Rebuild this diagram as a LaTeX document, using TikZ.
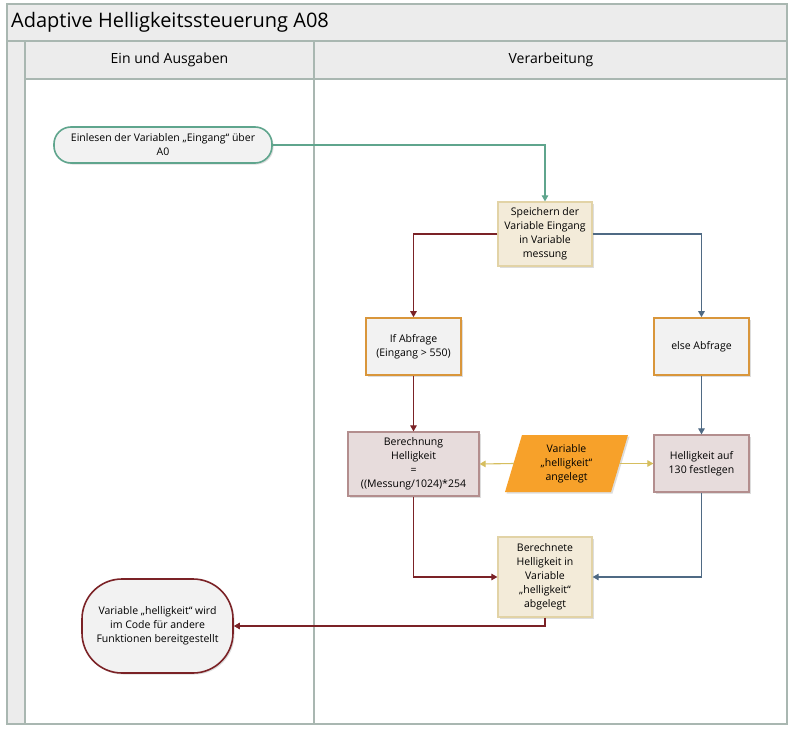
\documentclass[tikz,border=0pt]{standalone}
\usepackage{fontspec}
\setmainfont{Open Sans}
\usetikzlibrary{arrows.meta,shadows}
\definecolor{frameC}{HTML}{A9B7B1}
\definecolor{hdrC}{HTML}{ECECEC}
\definecolor{lightC}{HTML}{F2F2F2}
\definecolor{beigeC}{HTML}{F3EBD9}
\definecolor{beigeB}{HTML}{E2D3A6}
\definecolor{orangeB}{HTML}{D9963B}
\definecolor{pinkC}{HTML}{E7DCDC}
\definecolor{pinkB}{HTML}{B38E8E}
\definecolor{paraC}{HTML}{F7A12A}
\definecolor{tealC}{HTML}{5FA58D}
\definecolor{redC}{HTML}{7B2226}
\definecolor{slateC}{HTML}{4F6A84}
\definecolor{yelC}{HTML}{D6BE5E}
\tikzset{
  boxtext/.style={align=center, font=\fontsize{10.5}{14}\selectfont, inner sep=0pt},
  shad/.style={drop shadow={shadow xshift=1.5pt, shadow yshift=-1.5pt, opacity=0.22, fill=black!60}},
  beigebox/.style={boxtext, rectangle, fill=beigeC, draw=beigeB, line width=1.2pt, shad},
  orangebox/.style={boxtext, rectangle, fill=lightC, draw=orangeB, line width=1.6pt, shad},
  pinkbox/.style={boxtext, rectangle, fill=pinkC, draw=pinkB, line width=1.2pt, shad},
  conn/.style={line width=1.1pt, -{Triangle[length=6pt,width=6.5pt]}},
  framel/.style={draw=frameC, line width=1.2pt},
}
\begin{document}
\begin{tikzpicture}[x=1pt,y=-1pt]
\useasboundingbox (0,0) rectangle (795,733);
\fill[white] (0,0) rectangle (795,733);
% pool frame
\fill[hdrC] (7,4) rectangle (787,79);
\fill[hdrC] (7,4) rectangle (25,724);
\draw[framel] (7,41) -- (787,41);
\draw[framel] (25,41) -- (25,724);
\draw[framel] (25,79) -- (787,79);
\draw[draw=frameC, line width=2.6pt] (314,41) -- (314,724);
\draw[framel] (7,4) rectangle (787,724);
% titles
\node[anchor=west, inner sep=0pt, font=\fontsize{20}{24}\selectfont] (title) at (11,22) {Adaptive Helligkeitssteuerung A08};
\node[font=\fontsize{14}{17}\selectfont] (lane1) at (169.5,60) {Ein und Ausgaben};
\node[font=\fontsize{14}{17}\selectfont] (lane2) at (551,60) {Verarbeitung};
% nodes
\node[boxtext, rectangle, rounded corners=17pt, fill=lightC, draw=tealC, line width=1.6pt,
      minimum width=218pt, minimum height=36pt, shad] (start) at (163,145)
      {Einlesen der Variablen „Eingang“ über\\A0};
\node[beigebox, minimum width=94pt, minimum height=64pt] (spei) at (545,234)
      {Speichern der\\Variable Eingang\\in Variable\\messung};
\node[orangebox, minimum width=95pt, minimum height=57pt] (ifn) at (413.5,346.5)
      {If Abfrage\\(Eingang > 550)};
\node[orangebox, minimum width=95pt, minimum height=57pt] (elsen) at (701.5,346.5)
      {else Abfrage};
\node[pinkbox, minimum width=131pt, minimum height=64pt] (ber) at (413.5,464)
      {Berechnung\\Helligkeit\\=\\((Messung/1024)*254};
\node[pinkbox, minimum width=95pt, minimum height=57pt] (h130) at (701.5,463.5)
      {Helligkeit auf\\130 festlegen};
\node[beigebox, minimum width=94pt, minimum height=80pt] (abg) at (545,577)
      {Berechnete\\Helligkeit in\\Variable\\„helligkeit“\\abgelegt};
\node[boxtext, rectangle, rounded corners=40pt, fill=lightC, draw=redC, line width=1.6pt,
      minimum width=151pt, minimum height=94pt, shad] (endn) at (157.5,626)
      {Variable „helligkeit“ wird\\im Code für andere\\Funktionen bereitgestellt};
% parallelogram
\fill[paraC, shad] (505,492) -- (522,435) -- (628,435) -- (611,492) -- cycle;
\node[boxtext] (para) at (566.5,463.5) {Variable\\„helligkeit“\\angelegt};
\coordinate (parL) at (514,463.5);
\coordinate (parR) at (619,463.5);
% connectors
\draw[conn, tealC] (start.east) -| (spei.north);
\draw[conn, redC] (spei.west) -| (ifn.north);
\draw[conn, slateC] (spei.east) -| (elsen.north);
\draw[conn, redC] (ifn.south) -- (ber.north);
\draw[conn, slateC] (elsen.south) -- (h130.north);
\draw[conn, yelC] (parL) -- (ber.east);
\draw[conn, yelC] (parR) -- (h130.west);
\draw[conn, redC] (ber.south) |- (abg.west);
\draw[conn, slateC] (h130.south) |- (abg.east);
\draw[conn, redC] (abg.south) |- (endn.east);
\end{tikzpicture}
\end{document}
